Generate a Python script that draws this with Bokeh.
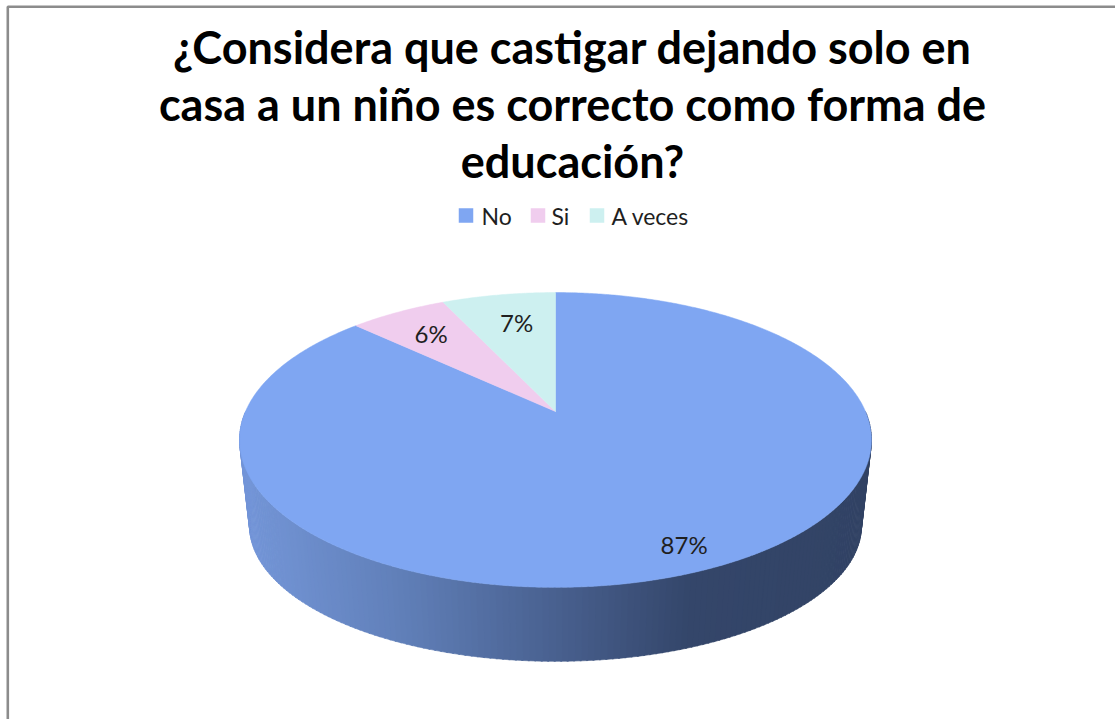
import numpy as np
from bokeh.core.properties import value
from bokeh.embed import file_html
from bokeh.models import ColumnDataSource, Range1d
from bokeh.plotting import figure
from bokeh.resources import INLINE

title_lines = ["¿Considera que castigar dejando solo en",
               "casa a un niño es correcto como forma de",
               "educación?"]
categories = ["No", "Si", "A veces"]
shares = [87, 6, 7]
slice_colors = ["#7FA6F2", "#F0CDEE", "#CDF0F0"]

WIDTH, HEIGHT = 1115, 719
FONT = "Lato"

# Projection of the unit disc onto the page (perspective view from above).
CX, APEX_Y, RADIUS_X, DEPTH_Y, TILT = 555.0, 411.0, 310.0, -62.6, 0.193
# Centre of the projected top ellipse and the scale of the lower rim.
TOP_CY, BOTTOM_CY, RIM_SX, RIM_SY = 439.0, 525.0, 306.0 / 316.0, 135.0 / 147.0


def project(u, v):
    w = 1.0 + TILT * v
    return CX + RADIUS_X * u / w, (APEX_Y + DEPTH_Y * v) / w


def arc(start_deg, end_deg, step=0.5):
    n = max(2, int(abs(end_deg - start_deg) / step) + 1)
    t = np.radians(np.linspace(start_deg, end_deg, n))
    return np.sin(t), np.cos(t)


def lerp_color(stops, x):
    xs = [s[0] for s in stops]
    rgb = [np.interp(x, xs, [s[1][i] for s in stops]) for i in range(3)]
    return "#%02x%02x%02x" % tuple(int(round(c)) for c in rgb)


# Slices run clockwise from twelve o'clock.
edges = np.cumsum([0] + shares) / sum(shares) * 360.0

p = figure(width=WIDTH, height=HEIGHT, output_backend="svg", toolbar_location=None,
           x_range=Range1d(0, WIDTH), y_range=Range1d(HEIGHT, 0),
           min_border=0, outline_line_color=None, background_fill_color="white")
p.axis.visible = False
p.grid.visible = False

# Chart frame, cut off by the page at the right and bottom.
p.line([7.3, 7.3, WIDTH], [HEIGHT, 6.2, 6.2], line_color="#8C8C8C", line_width=2.6)

# Side wall: only the part of each slice that faces the viewer shows.
wall_stops = [(240, (116, 150, 216)), (400, (96, 127, 184)), (555, (72, 96, 143)),
              (690, (52, 70, 106)), (871, (50, 67, 101))]
wall_xs, wall_ys, wall_colors = [], [], []
for start, end in zip(edges[:-1], edges[1:]):
    lo, hi = max(start, 90.0), min(end, 270.0)
    if hi <= lo:
        continue
    for a, b in zip(np.arange(lo, hi, 1.0), np.minimum(np.arange(lo, hi, 1.0) + 1.25, hi)):
        (ua, ub), (va, vb) = arc(a, b, step=10)
        xa, ya = project(ua, va)
        xb, yb = project(ub, vb)
        low_x = [CX + (x - CX) * RIM_SX for x in (xb, xa)]
        low_y = [BOTTOM_CY + (y - TOP_CY) * RIM_SY for y in (yb, ya)]
        wall_xs.append([xa, xb] + low_x)
        wall_ys.append([ya, yb] + low_y)
        wall_colors.append(lerp_color(wall_stops, (xa + xb) / 2))
p.patches(wall_xs, wall_ys, fill_color=wall_colors, line_color=wall_colors, line_width=0.6)

# Top face.
face_xs, face_ys = [], []
for start, end in zip(edges[:-1], edges[1:]):
    u, v = arc(start, end)
    x, y = project(u, v)
    ax, ay = project(0.0, 0.0)
    face_xs.append([ax] + list(x))
    face_ys.append([ay] + list(y))
p.patches(face_xs, face_ys, fill_color=slice_colors, line_color=slice_colors, line_width=0.5)

# Percentage labels, placed along each slice's middle direction.
label_radius = [0.87, 0.75, 0.70]
mids = np.radians((edges[:-1] + edges[1:]) / 2)
lx, ly = project(np.sin(mids) * label_radius, np.cos(mids) * label_radius)
p.text(lx, ly, text=[f"{s}%" for s in shares], text_font=value(FONT), text_font_size="24px",
       text_color="#1F1F1F", text_align="center", text_baseline="middle",
       x_offset=[2, -2, 3], y_offset=[-1, -1, -3])

# Title.
p.text([572, 572, 572], [46, 103, 160], text=title_lines, text_font=value(FONT),
       text_font_style="bold", text_font_size="45px", text_color="#000000",
       text_align="center", text_baseline="middle")

# Legend row.
legend_x = [458, 530, 589]
legend_text_x = [481, 551, 611]
source = ColumnDataSource(dict(x=[x + 7.5 for x in legend_x], y=[215] * 3, color=slice_colors,
                               tx=legend_text_x, ty=[215] * 3, label=categories))
p.rect("x", "y", width=14.5, height=14.5, fill_color="color", line_color=None, source=source)
p.text("tx", "ty", text="label", text_font=value(FONT), text_font_size="23px",
       text_color="#1F1F1F", text_align="left", text_baseline="middle", source=source)

open("out.html", "w").write(file_html(p, INLINE))
